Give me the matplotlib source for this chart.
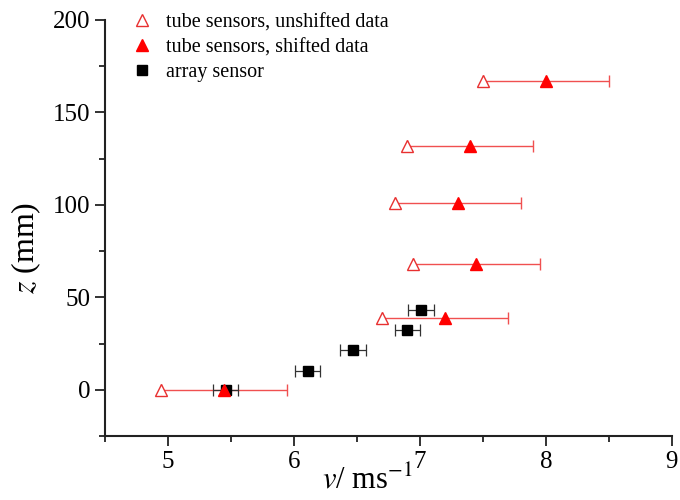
import matplotlib
matplotlib.use("Agg")
import matplotlib.pyplot as plt
from matplotlib.ticker import MultipleLocator

plt.rcParams['font.family'] = ['Liberation Serif', 'DejaVu Serif']
plt.rcParams['mathtext.fontset'] = 'stix'

# tube sensors: heights and velocities
z_tube = [0, 39, 68, 101, 132, 167]
v_unshifted = [4.95, 6.70, 6.95, 6.80, 6.90, 7.50]
v_shifted = [5.45, 7.20, 7.45, 7.30, 7.40, 8.00]
err_tube = [0.5, 0.5, 0.5, 0.5, 0.5, 0.5]

# array sensor
z_array = [0, 10, 21.5, 32.5, 43]
v_array = [5.46, 6.11, 6.47, 6.90, 7.01]
err_array = [0.1, 0.1, 0.1, 0.1, 0.1]

fig = plt.figure(figsize=(6.8, 5), dpi=100)
ax = fig.add_axes([0.154, 0.128, 0.834, 0.832])

red = '#ff0000'
ax.errorbar(v_shifted, z_tube, xerr=err_tube, fmt='none', ecolor='#f05050',
            elinewidth=1.0, capsize=4, capthick=1.0, zorder=2)
ax.errorbar(v_array, z_array, xerr=err_array, fmt='none', ecolor='#333333',
            elinewidth=0.9, capsize=4, capthick=0.9, zorder=2)
h1, = ax.plot(v_unshifted, z_tube, '^', ms=8, mfc='white', mec='#e83030',
              mew=1.0, ls='none', zorder=3, label='tube sensors, unshifted data')
h3, = ax.plot(v_array, z_array, 's', ms=7, color='black', ls='none',
              zorder=4, label='array sensor')
h2, = ax.plot(v_shifted, z_tube, '^', ms=9, color=red, ls='none', zorder=5,
              label='tube sensors, shifted data')

ax.set_xlim(4.5, 9)
ax.set_ylim(-25, 200)
ax.xaxis.set_major_locator(MultipleLocator(1))
ax.xaxis.set_minor_locator(MultipleLocator(0.5))
ax.yaxis.set_major_locator(MultipleLocator(50))
ax.yaxis.set_minor_locator(MultipleLocator(25))

for s in ['top', 'right']:
    ax.spines[s].set_visible(False)
for s in ['left', 'bottom']:
    ax.spines[s].set_linewidth(1.5)
    ax.spines[s].set_color('#222222')
ax.tick_params(which='major', direction='out', length=7, width=1.3,
               labelsize=18, colors='#222222', labelcolor='black')
ax.tick_params(which='minor', direction='out', length=4, width=1.3,
               colors='#222222')

ax.set_ylabel(r'$z$ (mm)', fontsize=23)
ax.yaxis.set_label_coords(-0.108, 0.452)
ax.set_xlabel(r'$v$/ ms$^{-1}$', fontsize=22)
ax.xaxis.set_label_coords(0.464, -0.07)

leg = ax.legend(handles=[h1, h2, h3], loc='upper left',
                bbox_to_anchor=(0.176, 0.998), bbox_transform=fig.transFigure,
                frameon=False, fontsize=14.5, handletextpad=0.7,
                handlelength=1.0, labelspacing=0.3, borderaxespad=0.2)

fig.savefig('out.png', dpi=100)
